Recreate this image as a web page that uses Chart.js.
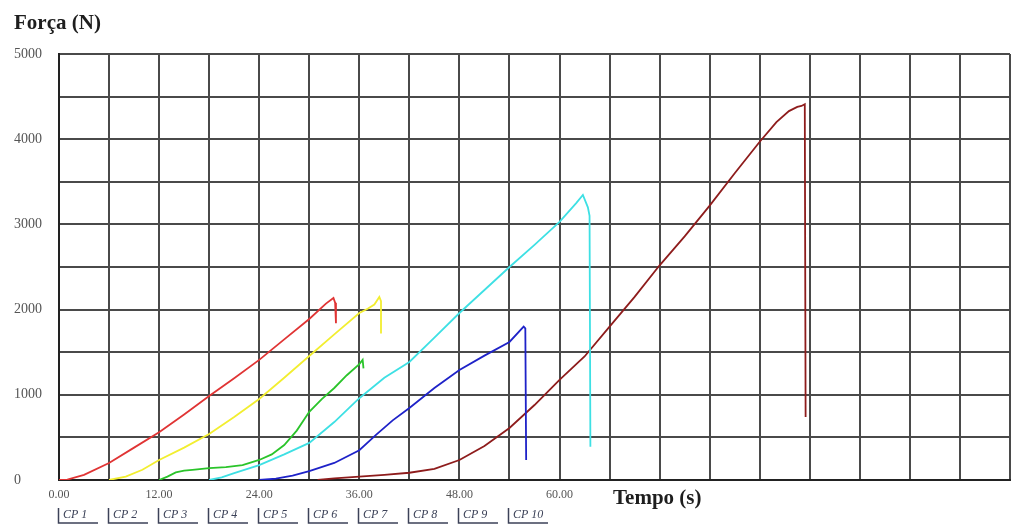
<!DOCTYPE html>
<html>
<head>
<meta charset="utf-8">
<script src="https://cdn.jsdelivr.net/npm/chart.js@4/dist/chart.umd.min.js"></script>
<style>
  html, body { margin: 0; padding: 0; background: #fff; overflow: hidden; }
  #wrap { width: 1011px; height: 527px; position: relative; }
</style>
</head>
<body>
<div id="wrap"><canvas id="chart"></canvas></div>
<script>
// tempo (s) / força (N)
const cp1Time  = [0, 1, 3, 6, 9, 12, 15, 18, 21, 24, 27, 30, 32, 32.9, 33.1, 33.2];
const cp1Force = [0, 5, 60, 200, 380, 560, 770, 985, 1195, 1410, 1650, 1890, 2070, 2136, 2080, 1840];

const cp2Time  = [6, 8, 10, 12, 15, 18, 21, 24, 27, 30, 33, 36, 37, 37.8, 38.4, 38.6, 38.6];
const cp2Force = [0, 40, 120, 235, 380, 540, 740, 950, 1200, 1455, 1710, 1960, 2010, 2060, 2148, 2100, 1720];

const cp3Time  = [12, 13, 14, 15, 16, 18, 20, 22, 24, 25.5, 27, 28.5, 30, 31.5, 33, 34.5, 36, 36.4, 36.5];
const cp3Force = [0, 40, 90, 110, 120, 140, 150, 175, 235, 300, 410, 580, 800, 950, 1080, 1230, 1360, 1410, 1310];

const cp4Time  = [18, 19.5, 21, 24, 27, 30, 33, 36, 39, 42, 45, 48, 51, 54, 57, 60, 62, 62.8, 63.4, 63.6, 63.7];
const cp4Force = [0, 30, 80, 175, 300, 435, 680, 960, 1200, 1385, 1670, 1960, 2230, 2500, 2760, 3030, 3250, 3345, 3200, 3100, 390];

const cp5Time  = [24, 26, 28, 30, 33, 36, 38, 40, 42, 45, 48, 51, 54, 55.7, 55.9, 56];
const cp5Force = [0, 15, 50, 105, 200, 350, 530, 700, 845, 1080, 1290, 1460, 1620, 1800, 1780, 235];

const cp6Time  = [31, 33, 36, 39, 42, 45, 48, 51, 54, 57, 60, 63, 66, 69, 72, 75, 78, 81, 84, 86, 87.5, 88.5, 89, 89.4, 89.5];
const cp6Force = [0, 20, 40, 60, 85, 130, 235, 400, 610, 880, 1175, 1450, 1800, 2150, 2520, 2860, 3220, 3600, 3970, 4200, 4330, 4380, 4390, 4410, 740];

const legendLabels = ['CP 1', 'CP 2', 'CP 3', 'CP 4', 'CP 5', 'CP 6', 'CP 7', 'CP 8', 'CP 9', 'CP 10'];
const xTickLabels = ['0.00', '12.00', '24.00', '36.00', '48.00', '60.00'];
const yTickLabels = ['0', '1000', '2000', '3000', '4000', '5000'];

const series = [
    { label: 'CP 1', t: cp1Time, f: cp1Force, color: '#e03434' },
    { label: 'CP 2', t: cp2Time, f: cp2Force, color: '#f2ee30' },
    { label: 'CP 3', t: cp3Time, f: cp3Force, color: '#2ac42a' },
    { label: 'CP 4', t: cp4Time, f: cp4Force, color: '#3ee0e4' },
    { label: 'CP 5', t: cp5Time, f: cp5Force, color: '#1e22c8' },
    { label: 'CP 6', t: cp6Time, f: cp6Force, color: '#8e1c1c' }
];

const serif = '"Liberation Serif", "Times New Roman", serif';

// title, axis label and the underlined CP legend below the plot
const extras = {
    id: 'extras',
    afterDraw(chart) {
        const ctx = chart.ctx;
        const xs = chart.scales.x;
        ctx.save();
        ctx.fillStyle = '#1e1e1e';
        ctx.textBaseline = 'middle';
        ctx.textAlign = 'left';
        ctx.font = 'bold 21px ' + serif;
        ctx.fillText('Força (N)', 14, 24);
        ctx.fillText('Tempo (s)', 613, 499);

        ctx.font = 'italic 12px ' + serif;
        legendLabels.forEach((lab, i) => {
            const x0 = Math.round(xs.getPixelForValue(i * 6)) - 1;
            ctx.strokeStyle = '#3c4258';
            ctx.lineWidth = 1.5;
            ctx.beginPath();
            ctx.moveTo(x0 + 0.5, 508);
            ctx.lineTo(x0 + 0.5, 523);
            ctx.lineTo(x0 + 40, 523);
            ctx.stroke();
            ctx.fillStyle = '#3c4258';
            ctx.fillText(lab, x0 + 5, 515);
        });
        ctx.restore();
    }
};

new Chart(document.getElementById('chart'), {
    type: 'line',
    data: {
        datasets: series.map(s => ({
            label: s.label,
            data: s.t.map((t, i) => ({ x: t, y: s.f[i] })),
            borderColor: s.color,
            backgroundColor: s.color,
            borderWidth: 1.8,
            pointRadius: 0,
            tension: 0,
            fill: false
        }))
    },
    options: {
        responsive: true,
        maintainAspectRatio: false,
        animation: false,
        layout: { padding: { left: 14, right: 1, top: 54, bottom: 0 } },
        plugins: {
            legend: { display: false },
            tooltip: { enabled: false }
        },
        scales: {
            x: {
                type: 'linear',
                min: 0,
                max: 114,
                afterFit(scale) {
                    scale.height = 47;
                    scale.paddingRight = 0;
                },
                grid: { color: '#4a4a4a', lineWidth: 2, drawTicks: false },
                border: { color: '#222', width: 2 },
                ticks: {
                    stepSize: 6,
                    padding: 8,
                    maxRotation: 0,
                    autoSkip: false,
                    color: '#555',
                    font: { family: serif, size: 12 },
                    callback: v => v % 12 === 0 && xTickLabels[v / 12] !== undefined ? xTickLabels[v / 12] : ''
                }
            },
            y: {
                min: 0,
                max: 5000,
                afterFit(scale) { scale.width = 45; },
                grid: { color: '#4a4a4a', lineWidth: 2, drawTicks: false },
                border: { color: '#222', width: 2 },
                ticks: {
                    stepSize: 500,
                    crossAlign: 'far',
                    padding: 4,
                    color: '#555',
                    font: { family: serif, size: 14 },
                    callback: v => v % 1000 === 0 ? yTickLabels[v / 1000] : ''
                }
            }
        }
    },
    plugins: [extras]
});
</script>
</body>
</html>
